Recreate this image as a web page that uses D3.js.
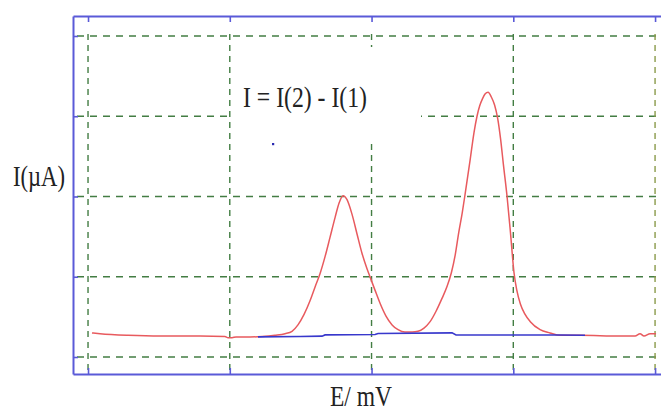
<!DOCTYPE html>
<html>
<head>
<meta charset="utf-8">
<script src="https://cdn.jsdelivr.net/npm/d3@7"></script>
<style>
  html, body { margin: 0; padding: 0; background: #fff; }
  svg { display: block; }
</style>
</head>
<body>
<div id="chart"></div>
<script>
// ---- data ----
const xTicks = [0, 100, 200, 300, 400];      // E gridlines (mV, arbitrary origin)
const yTicks = [0, 1, 2, 3, 4];              // I gridlines (µA, arbitrary origin)

// I = I(2) - I(1) (red trace)
const diffE = [2.8, 8.5, 28.2, 50.8, 79.0, 96.6, 98.8, 101.6, 104.4, 114.3, 122.8, 131.9, 139.0, 143.9, 148.1, 152.4, 156.6, 160.1, 163.7, 167.2, 170.7, 174.3, 177.1, 179.9, 182.7, 186.2, 189.8, 193.3, 196.8, 198.9, 202.5, 206.0, 210.2, 214.5, 218.7, 223.6, 228.6, 232.8, 237.0, 241.3, 245.5, 249.7, 253.3, 256.3, 259.0, 261.5, 264.0, 266.0, 269.5, 272.3, 274.4, 276.3, 278.3, 280.2, 282.2, 284.5, 286.8, 289.0, 291.0, 293.0, 295.6, 298.0, 300.5, 302.5, 305.0, 308.0, 312.0, 318.9, 325.9, 333.0, 347.1, 375.3, 385.9, 389.4, 392.2, 396.5, 400.7];
const diffI = [0.30, 0.29, 0.27, 0.26, 0.26, 0.255, 0.24, 0.24, 0.25, 0.25, 0.255, 0.27, 0.29, 0.32, 0.40, 0.53, 0.70, 0.87, 1.04, 1.25, 1.49, 1.74, 1.92, 2.01, 1.96, 1.78, 1.53, 1.29, 1.10, 1.00, 0.83, 0.67, 0.51, 0.40, 0.34, 0.31, 0.31, 0.32, 0.36, 0.44, 0.57, 0.73, 0.88, 1.05, 1.27, 1.55, 1.80, 2.03, 2.45, 2.80, 3.00, 3.13, 3.22, 3.28, 3.30, 3.24, 3.14, 2.97, 2.72, 2.40, 2.00, 1.55, 1.05, 0.83, 0.66, 0.54, 0.44, 0.34, 0.30, 0.27, 0.27, 0.26, 0.26, 0.29, 0.26, 0.29, 0.29];

// baseline trace (blue)
const baseE = [119.9, 149.6, 165.1, 167.2, 202.5, 204.6, 256.8, 259.6, 333.0, 350.6];
const baseI = [0.25, 0.255, 0.26, 0.275, 0.28, 0.293, 0.30, 0.274, 0.274, 0.27];

// stray marker
const dotE = [130.5];
const dotI = [2.654];

const labelText = "I = I(2) - I(1)";
const yTitle = "I(\u00b5A)";
const xTitle = "E/ mV";

// ---- drawing ----
const W = 661, H = 414;
const frame = { left: 73, right: 663, top: 16, bottom: 374 };
const svg = d3.select("#chart").append("svg").attr("width", W).attr("height", H);

const x = d3.scaleLinear().domain([-10.6, 405.6]).range([frame.left, frame.right]);
const y = d3.scaleLinear().domain([-0.212, 4.249]).range([frame.bottom, frame.top]);

const gridColor = "#437d43";
const frameColor = "#5a5ad8";

// gridlines
svg.append("g").selectAll("line").data(yTicks).join("line")
  .attr("x1", frame.left).attr("x2", x(xTicks[xTicks.length - 1]) + 2)
  .attr("y1", d => y(d)).attr("y2", d => y(d))
  .attr("stroke", gridColor).attr("stroke-width", 1.4)
  .attr("stroke-dasharray", "7,6").attr("stroke-dashoffset", -4);
svg.append("g").selectAll("line").data(xTicks).join("line")
  .attr("x1", d => x(d)).attr("x2", d => x(d))
  .attr("y1", y(yTicks[yTicks.length - 1]) - 2).attr("y2", frame.bottom - 4)
  .attr("stroke", (d, i) => i === xTicks.length - 1 ? "#8a9a4a" : gridColor)
  .attr("stroke-width", 1.4)
  .attr("stroke-dasharray", "6,5");

// white label box over the grid
svg.append("rect").attr("x", 233).attr("y", 47).attr("width", 188).attr("height", 93)
  .attr("fill", "#fff");

// axes as frame
function styleAxis(g) {
  g.selectAll("path").attr("stroke", frameColor).attr("stroke-width", 2);
  g.selectAll("line").attr("stroke", frameColor).attr("stroke-width", 1.6);
  g.selectAll("text").remove();
}
svg.append("g").attr("transform", `translate(0,${frame.top})`)
  .call(d3.axisBottom(x).tickValues(xTicks).tickSizeInner(6).tickSizeOuter(0).tickFormat(""))
  .call(styleAxis);
svg.append("g").attr("transform", `translate(0,${frame.bottom})`)
  .call(d3.axisTop(x).tickValues(xTicks).tickSizeInner(6).tickSizeOuter(0).tickFormat(""))
  .call(styleAxis);
svg.append("g").attr("transform", `translate(${frame.left},0)`)
  .call(d3.axisRight(y).tickValues(yTicks).tickSizeInner(5).tickSizeOuter(0).tickFormat(""))
  .call(styleAxis);

// curves
const redData = diffE.map((e, i) => [e, diffI[i]]);
const blueData = baseE.map((e, i) => [e, baseI[i]]);

svg.append("path").datum(redData)
  .attr("d", d3.line().x(d => x(d[0])).y(d => y(d[1])).curve(d3.curveMonotoneX))
  .attr("fill", "none").attr("stroke", "#e85a5e").attr("stroke-width", 1.5);
svg.append("path").datum(blueData)
  .attr("d", d3.line().x(d => x(d[0])).y(d => y(d[1])))
  .attr("fill", "none").attr("stroke", "#3838cc").attr("stroke-width", 1.6);

svg.append("g").selectAll("rect").data(dotE).join("rect")
  .attr("x", (d) => x(d) - 1).attr("y", (d, i) => y(dotI[i]) - 1)
  .attr("width", 2.2).attr("height", 2.2).attr("fill", "#2828b0");

// texts
function stretchedText(txt, px, py, len) {
  svg.append("text")
    .attr("transform", `translate(${px},${py}) scale(1,1.3)`)
    .attr("font-family", "'Liberation Serif', 'DejaVu Serif', serif")
    .attr("font-size", 23)
    .attr("fill", "#222")
    .attr("textLength", len)
    .attr("lengthAdjust", "spacingAndGlyphs")
    .text(txt);
}
stretchedText(labelText, 243, 107, 124);
stretchedText(yTitle, 13, 186, 52);
stretchedText(xTitle, 330, 406, 62);
</script>
</body>
</html>
